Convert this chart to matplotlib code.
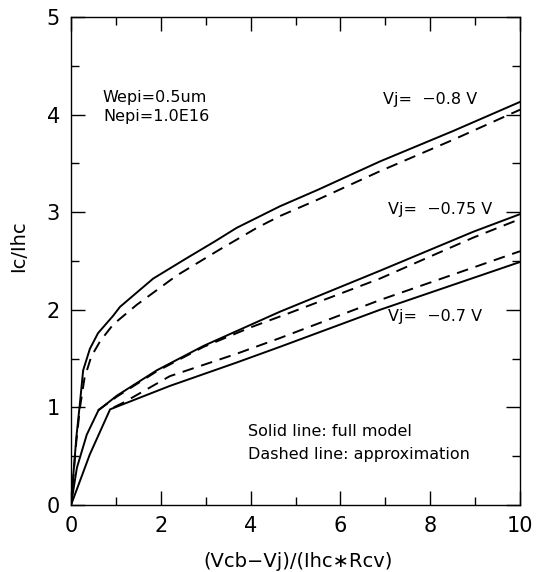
import matplotlib
matplotlib.use("Agg")
from matplotlib import pyplot as plt
from matplotlib.ticker import MultipleLocator

plt.rcParams['font.family'] = ['DejaVu Sans']

# Vj = -0.8 V
x_08_full = [0, 0.05, 0.12, 0.2, 0.27, 0.42, 0.6, 0.94, 1.09, 1.83, 2.58, 3.2, 3.69, 4.65, 5.5, 6.88, 8.5, 10]
y_08_full = [0, 0.3, 0.7, 1.05, 1.38, 1.6, 1.76, 1.94, 2.03, 2.32, 2.53, 2.7, 2.84, 3.06, 3.23, 3.52, 3.83, 4.13]
x_08_appr = [0, 0.05, 0.12, 0.2, 0.3, 0.45, 0.65, 0.94, 1.46, 2.35, 3.32, 4.14, 4.65, 5.5, 6.88, 8.5, 10]
y_08_appr = [0, 0.28, 0.66, 1.0, 1.3, 1.52, 1.68, 1.85, 2.05, 2.35, 2.62, 2.84, 2.96, 3.13, 3.42, 3.74, 4.05]

# Vj = -0.75 V
x_075_full = [0, 0.13, 0.35, 0.61, 1.02, 1.91, 2.95, 4.65, 6.88, 8.96, 10]
y_075_full = [0, 0.38, 0.72, 0.97, 1.12, 1.38, 1.63, 1.98, 2.4, 2.8, 2.98]
x_075_appr = [0.6, 1.02, 1.91, 2.95, 4.0, 4.88, 6.88, 8.96, 10]
y_075_appr = [0.97, 1.11, 1.37, 1.62, 1.82, 1.97, 2.32, 2.74, 2.93]

# Vj = -0.7 V
x_07_full = [0, 0.42, 0.87, 1.09, 2.2, 3.69, 4.65, 6.88, 10]
y_07_full = [0, 0.52, 0.98, 1.02, 1.22, 1.46, 1.62, 2.0, 2.49]
x_07_appr = [0.95, 1.17, 2.2, 3.69, 4.65, 6.88, 10]
y_07_appr = [1.0, 1.05, 1.32, 1.55, 1.71, 2.1, 2.6]

vj_labels = ["Vj=  \u22120.8 V", "Vj=  \u22120.75 V", "Vj=  \u22120.7 V"]

fig = plt.figure(figsize=(5.36, 5.72), dpi=100)
ax = fig.add_axes([0.1325, 0.1171, 0.8377, 0.8532])

lw = 1.4
dash = (0, (6, 4))
ax.plot(x_08_full, y_08_full, color='k', lw=lw)
ax.plot(x_08_appr, y_08_appr, color='k', lw=lw, linestyle=dash)
ax.plot(x_075_full, y_075_full, color='k', lw=lw)
ax.plot(x_075_appr, y_075_appr, color='k', lw=lw, linestyle=dash)
ax.plot(x_07_full, y_07_full, color='k', lw=lw)
ax.plot(x_07_appr, y_07_appr, color='k', lw=lw, linestyle=dash)

ax.set_xlim(0, 10)
ax.set_ylim(0, 5)
ax.xaxis.set_major_locator(MultipleLocator(2))
ax.xaxis.set_minor_locator(MultipleLocator(1))
ax.yaxis.set_major_locator(MultipleLocator(1))
ax.yaxis.set_minor_locator(MultipleLocator(0.5))
ax.tick_params(which='both', direction='in', top=True, right=True,
               labelsize=15, width=1.0, pad=8)
ax.tick_params(which='major', length=10)
ax.tick_params(which='minor', length=6)
for s in ax.spines.values():
    s.set_linewidth(1.0)

ax.set_xlabel("(Vcb\u2212Vj)/(Ihc\u2217Rcv)", fontsize=14)
ax.set_ylabel("Ic/Ihc", fontsize=14)
ax.xaxis.set_label_coords(0.505, -0.096)
ax.yaxis.set_label_coords(-0.096, 0.53)

fs = 11.5
ax.text(0.71, 4.18, "Wepi=0.5um", fontsize=fs, va='center')
ax.text(0.71, 3.98, "Nepi=1.0E16", fontsize=fs, va='center')
ax.text(6.95, 4.15, vj_labels[0], fontsize=fs, va='center')
ax.text(7.06, 3.03, vj_labels[1], fontsize=fs, va='center')
ax.text(7.06, 1.93, vj_labels[2], fontsize=fs, va='center')
ax.text(3.94, 0.75, "Solid line: full model", fontsize=fs, va='center')
ax.text(3.94, 0.52, "Dashed line: approximation", fontsize=fs, va='center')

plt.savefig('out.png', dpi=100)
